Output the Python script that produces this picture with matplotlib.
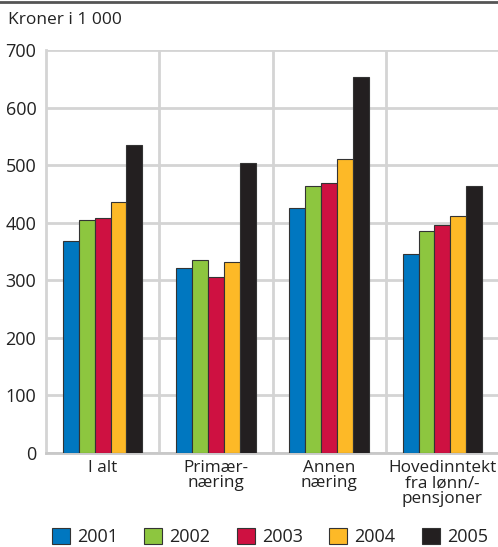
import matplotlib
matplotlib.use("Agg")
import matplotlib.pyplot as plt
import numpy as np

plt.rcParams['font.family'] = ['Open Sans', 'DejaVu Sans']

categories = ["I alt", "Primær-\nnæring", "Annen\nnæring", "Hovedinntekt\nfra lønn/-\npensjoner"]
years = ["2001", "2002", "2003", "2004", "2005"]
values = {
    "2001": [368, 321, 425, 346],
    "2002": [405, 335, 464, 386],
    "2003": [408, 306, 469, 396],
    "2004": [436, 332, 511, 412],
    "2005": [535, 504, 653, 464],
}
colors = ["#0077C0", "#8DC63F", "#CE1141", "#FDB927", "#231F20"]
yticks = [0, 100, 200, 300, 400, 500, 600, 700]

fig = plt.figure(figsize=(4.98, 5.47), dpi=100)
ax = fig.add_axes([46/498, 1-453/547, (499-46)/498, (453-50)/547])

x = np.arange(len(categories))
w = 0.14
for i, y in enumerate(years):
    ax.bar(x + (i - 2) * w, values[y], width=w, color=colors[i],
           edgecolor="#333333", linewidth=0.8, zorder=3, label=y)

ax.set_xlim(-0.5, len(categories) - 0.5)
ax.set_ylim(0, 700)
ax.set_yticks(yticks)
ax.set_yticklabels([str(t) for t in yticks], fontsize=13, color="#222222")
ax.set_xticks(x)
ax.set_xticklabels(categories, fontsize=12.3, color="#222222", linespacing=0.95)
ax.tick_params(axis='x', length=0, pad=5)
ax.tick_params(axis='y', length=0, pad=7)

ax.yaxis.grid(True, color="#d4d4d4", linewidth=2, zorder=0)
for b in [0.5, 1.5, 2.5]:
    ax.axvline(b, color="#d4d4d4", linewidth=2, zorder=0)
for s in ["top", "right"]:
    ax.spines[s].set_visible(False)
ax.spines["left"].set_color("#d4d4d4")
ax.spines["left"].set_linewidth(2)
ax.spines["bottom"].set_color("#c8c8c8")
ax.spines["bottom"].set_linewidth(2)

fig.text(8/498, 1-20/547, "Kroner i 1 000", fontsize=12.5, color="#222222", va="center", ha="left")
fig.add_artist(plt.Line2D([0, 1], [1-2/547, 1-2/547], color="#555555", linewidth=2))

leg = fig.legend(loc="center", bbox_to_anchor=(270/498, 1-537/547), ncol=5, frameon=False,
                 fontsize=13, handlelength=1.0, handleheight=1.0, handletextpad=0.4,
                 columnspacing=1.45, borderaxespad=0)
for t in leg.get_texts():
    t.set_color("#222222")

fig.savefig("out.png", dpi=100)
